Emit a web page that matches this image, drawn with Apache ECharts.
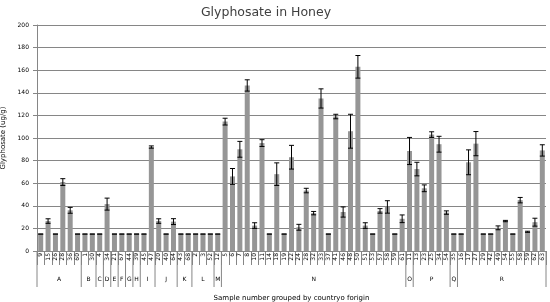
<!DOCTYPE html>
<html><head><meta charset="utf-8">
<script src="https://cdn.jsdelivr.net/npm/echarts@6/dist/echarts.min.js"></script>
<style>html,body{margin:0;padding:0;background:#fff}#c{width:550px;height:302px}</style>
</head><body><div id="c"></div>
<script>
const samples = ['9','15','26','28','36','60','1','30','4','34','21','67','44','39','45','47','20','40','64','43','68','2','3','52','12',
  '5','6','7','8','10','11','14','18','19','22','24','28','32','33','37','41','46','48','50','51','53','57','58','59','61',
  '11','13','23','25','34','54','35','16','17','27','29','42','49','54','55','58','59','62','63'];
const groups = ['A','B','C','D','E','F','G','H','I','J','K','L','M','N','O','P','Q','R'];
const groupSizes = [6,2,1,1,1,1,1,1,2,3,2,3,1,25,1,5,1,12];
const values = [15,26.5,15,61,36,15,15,15,15,41.5,15,15,15,15,15,92,26.5,15,26,15,15,15,15,15,15,
  114.5,66,90,146.5,22.5,95.5,15,68,15,83,21,53.5,33.5,135,15,119,34.5,106,163,22.5,15,35.5,39,15,28.5,
  88.5,72.5,55.5,103,94.5,34,15,15,78.5,95,15,15,20.5,26.5,15,45,17,25.5,89];
const errors = [0,2,0,3,2.6,0,0,0,0,5.3,0,0,0,0,0,1,2,0,2.6,0,0,0,0,0,0,
  3,7,7,5,2.5,3,0,10,0,10.5,2.6,2,1.5,8.5,0,2,4.5,15,10,2.5,0,2,5.5,0,3.4,
  12,6,3,2.5,7,1.5,0,0,11,10.7,0,0,1.7,0.6,0,2.4,0.5,3.5,5];
const yMin = 0, yMax = 200, yStep = 20;

const errData = values.map((v, i) => [i, v - errors[i], v + errors[i]]);
const groupData = [];
let s = 0;
groupSizes.forEach((n, i) => { groupData.push([s, s + n, groups[i]]); s += n; });
const total = samples.length;

const chart = echarts.init(document.getElementById('c'));
const font = 'DejaVu Sans';
const gray = '#868686';
chart.setOption({
  animation: false,
  title: { text: 'Glyphosate in Honey', left: 261, top: 1, textAlign: 'center',
    textStyle: { fontFamily: font, fontSize: 12.5, fontWeight: 'normal', color: '#404040' } },
  grid: { left: 37, right: 4, top: 25, bottom: 51, containLabel: false, outerBoundsMode: 'none' },
  xAxis: [{
    type: 'category', data: samples, boundaryGap: true,
    axisLine: { lineStyle: { color: gray, width: 1 } },
    axisTick: { show: true, interval: 0, length: 14, lineStyle: { color: gray } },
    axisLabel: { interval: 0, rotate: 90, fontFamily: font, fontSize: 6, color: '#000', margin: 2 },
    name: 'Sample number grouped by countryo forigin', nameLocation: 'middle', nameGap: 44,
    nameTextStyle: { fontFamily: font, fontSize: 7, color: '#000' }
  }, {
    type: 'value', min: 0, max: total, show: false
  }],
  yAxis: {
    type: 'value', min: yMin, max: yMax, interval: yStep,
    axisLine: { show: true, lineStyle: { color: gray } },
    axisTick: { show: true, length: 4, lineStyle: { color: gray } },
    splitLine: { lineStyle: { color: gray, width: 1 } },
    axisLabel: { fontFamily: font, fontSize: 6, color: '#000', margin: 8 },
    name: 'Glyphosate (ug/g)', nameLocation: 'middle', nameGap: 30,
    nameTextStyle: { fontFamily: font, fontSize: 7, color: '#000' }
  },
  series: [{
    type: 'bar', data: values, barWidth: 5, itemStyle: { color: '#969696' }
  }, {
    type: 'custom', xAxisIndex: 0, data: errData, z: 5,
    renderItem: function (params, api) {
      const x = api.value(0);
      const lo = api.coord([x, api.value(1)]);
      const hi = api.coord([x, api.value(2)]);
      const hw = 2.5;
      const st = { stroke: '#000', lineWidth: 1 };
      return { type: 'group', children: [
        { type: 'line', shape: { x1: hi[0], y1: hi[1], x2: lo[0], y2: lo[1] }, style: st },
        { type: 'line', shape: { x1: hi[0] - hw, y1: hi[1], x2: hi[0] + hw, y2: hi[1] }, style: st },
        { type: 'line', shape: { x1: lo[0] - hw, y1: lo[1], x2: lo[0] + hw, y2: lo[1] }, style: st }
      ]};
    }
  }, {
    type: 'custom', xAxisIndex: 1, data: groupData, clip: false,
    renderItem: function (params, api) {
      const a = api.coord([api.value(0), 0]);
      const b = api.coord([api.value(1), 0]);
      const y0 = a[1];
      const st = { stroke: gray, lineWidth: 1 };
      const ch = [
        { type: 'line', shape: { x1: a[0], y1: y0, x2: a[0], y2: y0 + 36 }, style: st },
        { type: 'text', style: { text: groups[params.dataIndex], x: (a[0] + b[0]) / 2, y: y0 + 28,
          align: 'center', verticalAlign: 'middle', fontFamily: font, fontSize: 6, fill: '#000' } }
      ];
      if (params.dataIndex === groupData.length - 1) {
        ch.push({ type: 'line', shape: { x1: b[0], y1: y0, x2: b[0], y2: y0 + 36 }, style: st });
      }
      return { type: 'group', children: ch };
    }
  }]
});
</script></body></html>
